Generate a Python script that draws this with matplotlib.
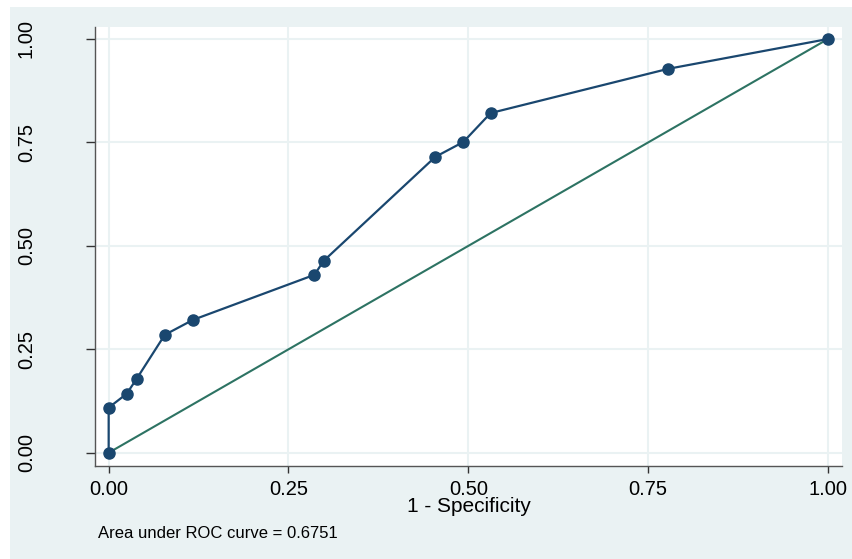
import matplotlib.pyplot as plt
from matplotlib.patches import Rectangle

plt.rcParams['font.family'] = ['Liberation Sans', 'DejaVu Sans']

# ROC points: 1 - specificity vs sensitivity
fpr = [0.0, 0.0, 0.025, 0.039, 0.078, 0.117, 0.286, 0.299, 0.454, 0.493, 0.531, 0.778, 1.0]
tpr = [0.0, 0.109, 0.1425, 0.179, 0.285, 0.321, 0.430, 0.464, 0.715, 0.751, 0.821, 0.928, 1.0]
ticks = [0.0, 0.25, 0.5, 0.75, 1.0]
tick_labels = ['0.00', '0.25', '0.50', '0.75', '1.00']
auc_text = 'Area under ROC curve = 0.6751'

bg = '#eaf2f3'
fig = plt.figure(figsize=(8.53, 5.59), dpi=100, facecolor=bg)
# thin white border on top and left
fig.patches.append(Rectangle((0, 1 - 7 / 559), 1, 7 / 559, transform=fig.transFigure,
                             facecolor='white', edgecolor='none', zorder=0))
fig.patches.append(Rectangle((0, 0), 10 / 853, 1, transform=fig.transFigure,
                             facecolor='white', edgecolor='none', zorder=0))

ax = fig.add_axes([95 / 853, 1 - 466 / 559, (842 - 95) / 853, (466 - 27) / 559])
ax.set_facecolor('white')

ax.plot([0, 1], [0, 1], color='#2d7363', lw=1.5, zorder=2)
ax.plot(fpr, tpr, color='#1a476f', lw=1.6, marker='o', markersize=8, zorder=3)

ax.set_xlim(-0.019, 1.0195)
ax.set_ylim(-0.032, 1.029)
ax.set_xticks(ticks)
ax.set_xticklabels(tick_labels)
ax.set_yticks(ticks)
ax.set_yticklabels(tick_labels, rotation=90, va='center')
ax.tick_params(axis='x', labelsize=14.5, length=5, width=1, color='#333333', pad=5)
ax.tick_params(axis='y', labelsize=14.5, length=6.5, width=1, color='#333333', pad=36)
ax.grid(True, color=bg, lw=1.5, zorder=0)
ax.set_axisbelow(True)

for s in ['top', 'right']:
    ax.spines[s].set_visible(False)
for s in ['left', 'bottom']:
    ax.spines[s].set_color('#555555')
    ax.spines[s].set_linewidth(1)

ax.set_xlabel('1 - Specificity', fontsize=15, labelpad=-1)
fig.text(98 / 853, 1 - 533 / 559, auc_text, fontsize=12, va='center', ha='left')

fig.savefig('out.png', dpi=100, facecolor=bg)
